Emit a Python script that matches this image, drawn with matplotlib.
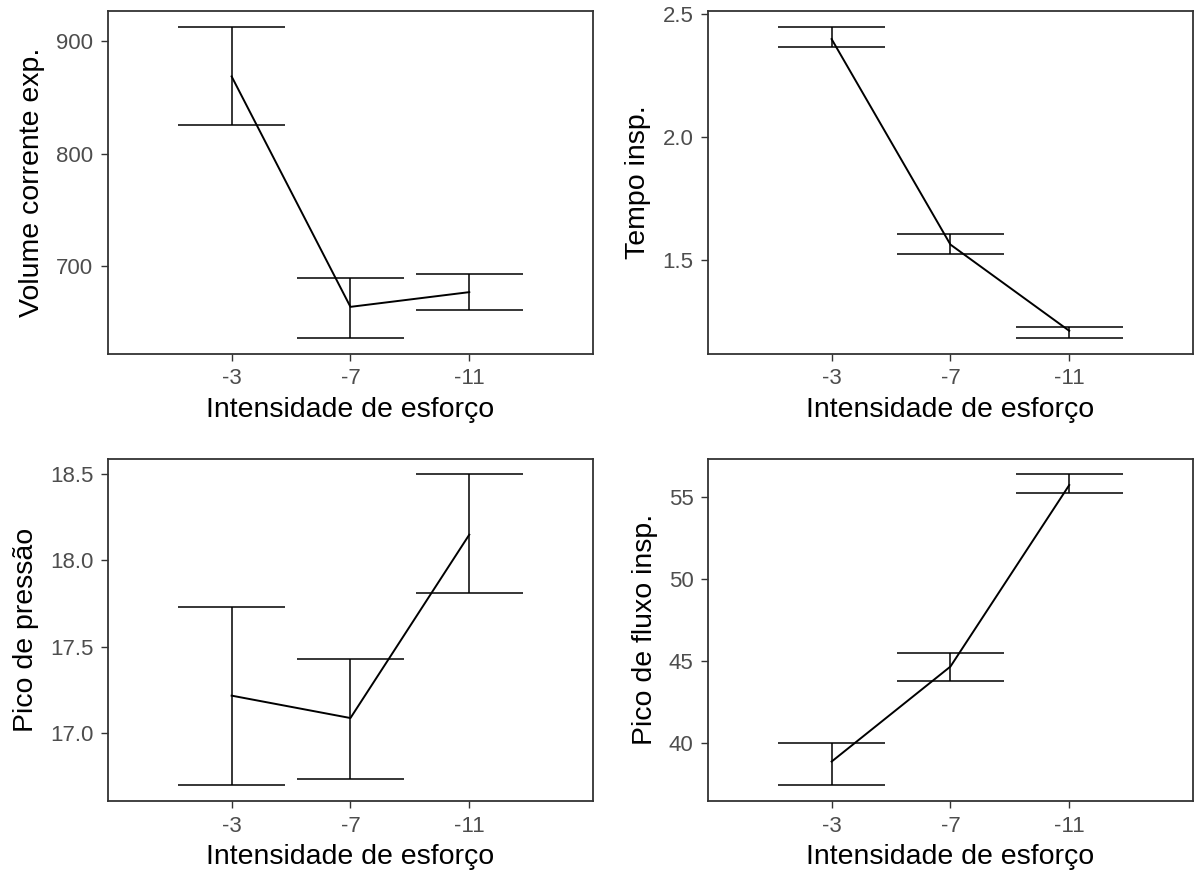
"""Mean and interval by effort intensity, four ventilation measures."""

import matplotlib

matplotlib.use("Agg")
import matplotlib.pyplot as plt

plt.rcParams["font.family"] = ["Liberation Sans", "DejaVu Sans"]

intensity = ["-3", "-7", "-11"]

volume_mean = [868.8, 663.7, 676.8]
volume_low = [825.4, 635.8, 660.8]
volume_high = [912.8, 689.6, 693.2]

tempo_mean = [2.398, 1.564, 1.214]
tempo_low = [2.366, 1.526, 1.184]
tempo_high = [2.447, 1.607, 1.231]

pressao_mean = [17.215, 17.085, 18.149]
pressao_low = [16.694, 16.729, 17.812]
pressao_high = [17.732, 17.428, 18.50]

fluxo_mean = [38.88, 44.66, 55.7]
fluxo_low = [37.43, 43.78, 55.24]
fluxo_high = [40.0, 45.47, 56.36]

FRAME = "#333333"
TICK_TEXT = "#4D4D4D"


def _panel(fig, rect, mean, low, high, ylabel, yticks, ticklabels):
    ax = fig.add_axes(rect)
    x = list(range(len(intensity)))
    half = 0.45
    ax.vlines(x, low, high, color="black", linewidth=1.1)
    ax.hlines(low, [v - half for v in x], [v + half for v in x], color="black", linewidth=1.1)
    ax.hlines(high, [v - half for v in x], [v + half for v in x], color="black", linewidth=1.1)
    ax.plot(x, mean, color="black", linewidth=1.4)

    # ggplot-like 5% expansion around the interval range
    span = max(high) - min(low)
    ax.set_ylim(min(low) - 0.05 * span, max(high) + 0.05 * span)
    ax.set_xlim(-1.04, len(x) - 1 + 1.04)

    ax.set_xticks(x, intensity)
    ax.set_yticks(yticks, ticklabels)
    ax.tick_params(length=5, width=1.0, color=FRAME, labelcolor=TICK_TEXT,
                   labelsize=16, pad=5.5)
    for side in ax.spines.values():
        side.set_color(FRAME)
        side.set_linewidth(1.3)
    ax.set_xlabel("Intensidade de esforço", fontsize=20.5, labelpad=5.5)
    ax.set_ylabel(ylabel, fontsize=20.5, labelpad=8)
    return ax


fig = plt.figure(figsize=(11.94, 8.8), dpi=100)
w, h = 0.406, 0.389
_panel(fig, [0.0905, 0.598, w, h], volume_mean, volume_low, volume_high,
       "Volume corrente exp.", [700, 800, 900], ["700", "800", "900"])
_panel(fig, [0.593, 0.598, w, h], tempo_mean, tempo_low, tempo_high,
       "Tempo insp.", [1.5, 2.0, 2.5], ["1.5", "2.0", "2.5"])
_panel(fig, [0.0905, 0.0898, w, h], pressao_mean, pressao_low, pressao_high,
       "Pico de pressão", [17.0, 17.5, 18.0, 18.5], ["17.0", "17.5", "18.0", "18.5"])
_panel(fig, [0.593, 0.0898, w, h], fluxo_mean, fluxo_low, fluxo_high,
       "Pico de fluxo insp.", [40, 45, 50, 55], ["40", "45", "50", "55"])

fig.savefig("out.png", dpi=100)
